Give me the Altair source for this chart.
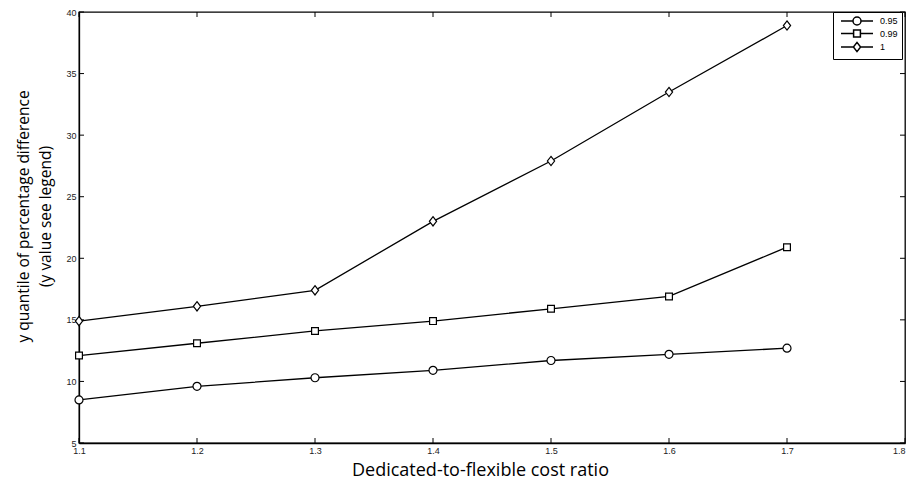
import altair as alt
import pandas as pd

# ---- data ----
x_values = [1.1, 1.2, 1.3, 1.4, 1.5, 1.6, 1.7]
q095 = [8.5, 9.6, 10.3, 10.9, 11.7, 12.2, 12.7]
q099 = [12.1, 13.1, 14.1, 14.9, 15.9, 16.9, 20.9]
q100 = [14.9, 16.1, 17.4, 23.0, 27.9, 33.5, 38.9]
series_labels = ["0.95", "0.99", "1"]
x_ticks = [1.1, 1.2, 1.3, 1.4, 1.5, 1.6, 1.7, 1.8]
y_ticks = [5, 10, 15, 20, 25, 30, 35, 40]

rows = []
for lab, vals in zip(series_labels, [q095, q099, q100]):
    for xv, v in zip(x_values, vals):
        rows.append({"ratio": xv, "value": v, "series": lab, "legend_series": lab})
df = pd.DataFrame(rows)

W, H = 826, 431
TICK = 5

xs = alt.Scale(domain=[1.1, 1.8], nice=False, zero=False)
ys = alt.Scale(domain=[5, 40], nice=False, zero=False)

x_axis = alt.Axis(
    values=x_ticks, format=".1f", ticks=False, grid=False, labelFlush=False,
    labelAlign={"condition": {"test": "datum.value > 1.75", "value": "right"}, "value": "center"},
    title="Dedicated-to-flexible cost ratio", titleX=401, titleY=32,
    titleBaseline="alphabetic", titleAnchor="start", titleAlign="center",
    titleFontSize=18,
)
y_axis = alt.Axis(
    values=y_ticks, format="d", ticks=False, grid=False, labelFlush=False,
    title=["y quantile of percentage difference", "(y value see legend)"],
    titlePadding=12, titleLineHeight=22, titleFontSize=15.5, titleY=204,
)

circle = "M-1,0A1,1,0,1,1,1,0A1,1,0,1,1,-1,0Z"
square = "M-0.85,-0.85H0.85V0.85H-0.85Z"
diamond = "M0,-1.15L0.9,0L0,1.15L-0.9,0Z"
marker_paths = [circle, square, diamond]
legend_paths = [
    "M-4,0H-1M1,0H4" + circle,
    "M-4,0H-0.85M0.85,0H4" + square,
    "M-4,0H-0.9M0.9,0H4" + diamond,
]

X = alt.X("ratio:Q", scale=xs, axis=x_axis)
Y = alt.Y("value:Q", scale=ys, axis=y_axis)

base = alt.Chart(df)

lines = base.mark_line(color="black", strokeWidth=1.3).encode(
    x=X, y=Y, detail="series:N"
)

points = base.mark_point(
    filled=True, fill="white", stroke="black", strokeWidth=1.2, size=64, opacity=1
).encode(
    x=X, y=Y,
    shape=alt.Shape("series:N", scale=alt.Scale(domain=series_labels, range=marker_paths), legend=None),
)

# invisible layer whose only job is to build the legend (line + marker symbols)
legend_layer = base.mark_point(
    filled=False, color="black", strokeWidth=1.2, size=64, opacity=0
).encode(
    x=X, y=Y,
    shape=alt.Shape(
        "legend_series:N",
        scale=alt.Scale(domain=series_labels, range=legend_paths),
        legend=alt.Legend(
            title=None, orient="none", legendX=754, legendY=0,
            strokeColor="black", fillColor="white", padding=4,
            labelFont="Liberation Sans", labelFontSize=9, labelColor="black",
            symbolSize=64, symbolOffset=15, labelOffset=18,
            symbolOpacity=1, rowPadding=-1.5,
        ),
    )
)

xt = pd.DataFrame({"ratio": x_ticks})
yt = pd.DataFrame({"value": y_ticks})

xt_bottom = alt.Chart(xt).mark_rule(color="black", strokeWidth=1).encode(
    x=X, y=alt.value(H), y2=alt.value(H - TICK))
xt_top = alt.Chart(xt).mark_rule(color="black", strokeWidth=1).encode(
    x=X, y=alt.value(0), y2=alt.value(TICK))
yt_left = alt.Chart(yt).mark_rule(color="black", strokeWidth=1).encode(
    y=Y, x=alt.value(0), x2=alt.value(TICK))
yt_right = alt.Chart(yt).mark_rule(color="black", strokeWidth=1).encode(
    y=Y, x=alt.value(W), x2=alt.value(W - TICK))

chart = alt.layer(
    xt_bottom, xt_top, yt_left, yt_right, lines, points, legend_layer
).resolve_scale(shape="independent").resolve_legend(shape="independent").properties(
    width=W, height=H,
    background="white",
    autosize=alt.AutoSizeParams(type="none"),
    padding={"left": 71, "top": 4, "right": 3, "bottom": 37},
).configure_view(
    stroke="black", strokeWidth=1.3
).configure_axis(
    domainColor="black", domainWidth=1.3,
    labelFont="Liberation Sans", labelFontSize=9, labelColor="#222",
    labelPadding=3,
    titleFont="Open Sans", titleFontWeight="normal", titleColor="black",
)

chart.save("out.html", embed_options={"renderer": "svg", "actions": False})
